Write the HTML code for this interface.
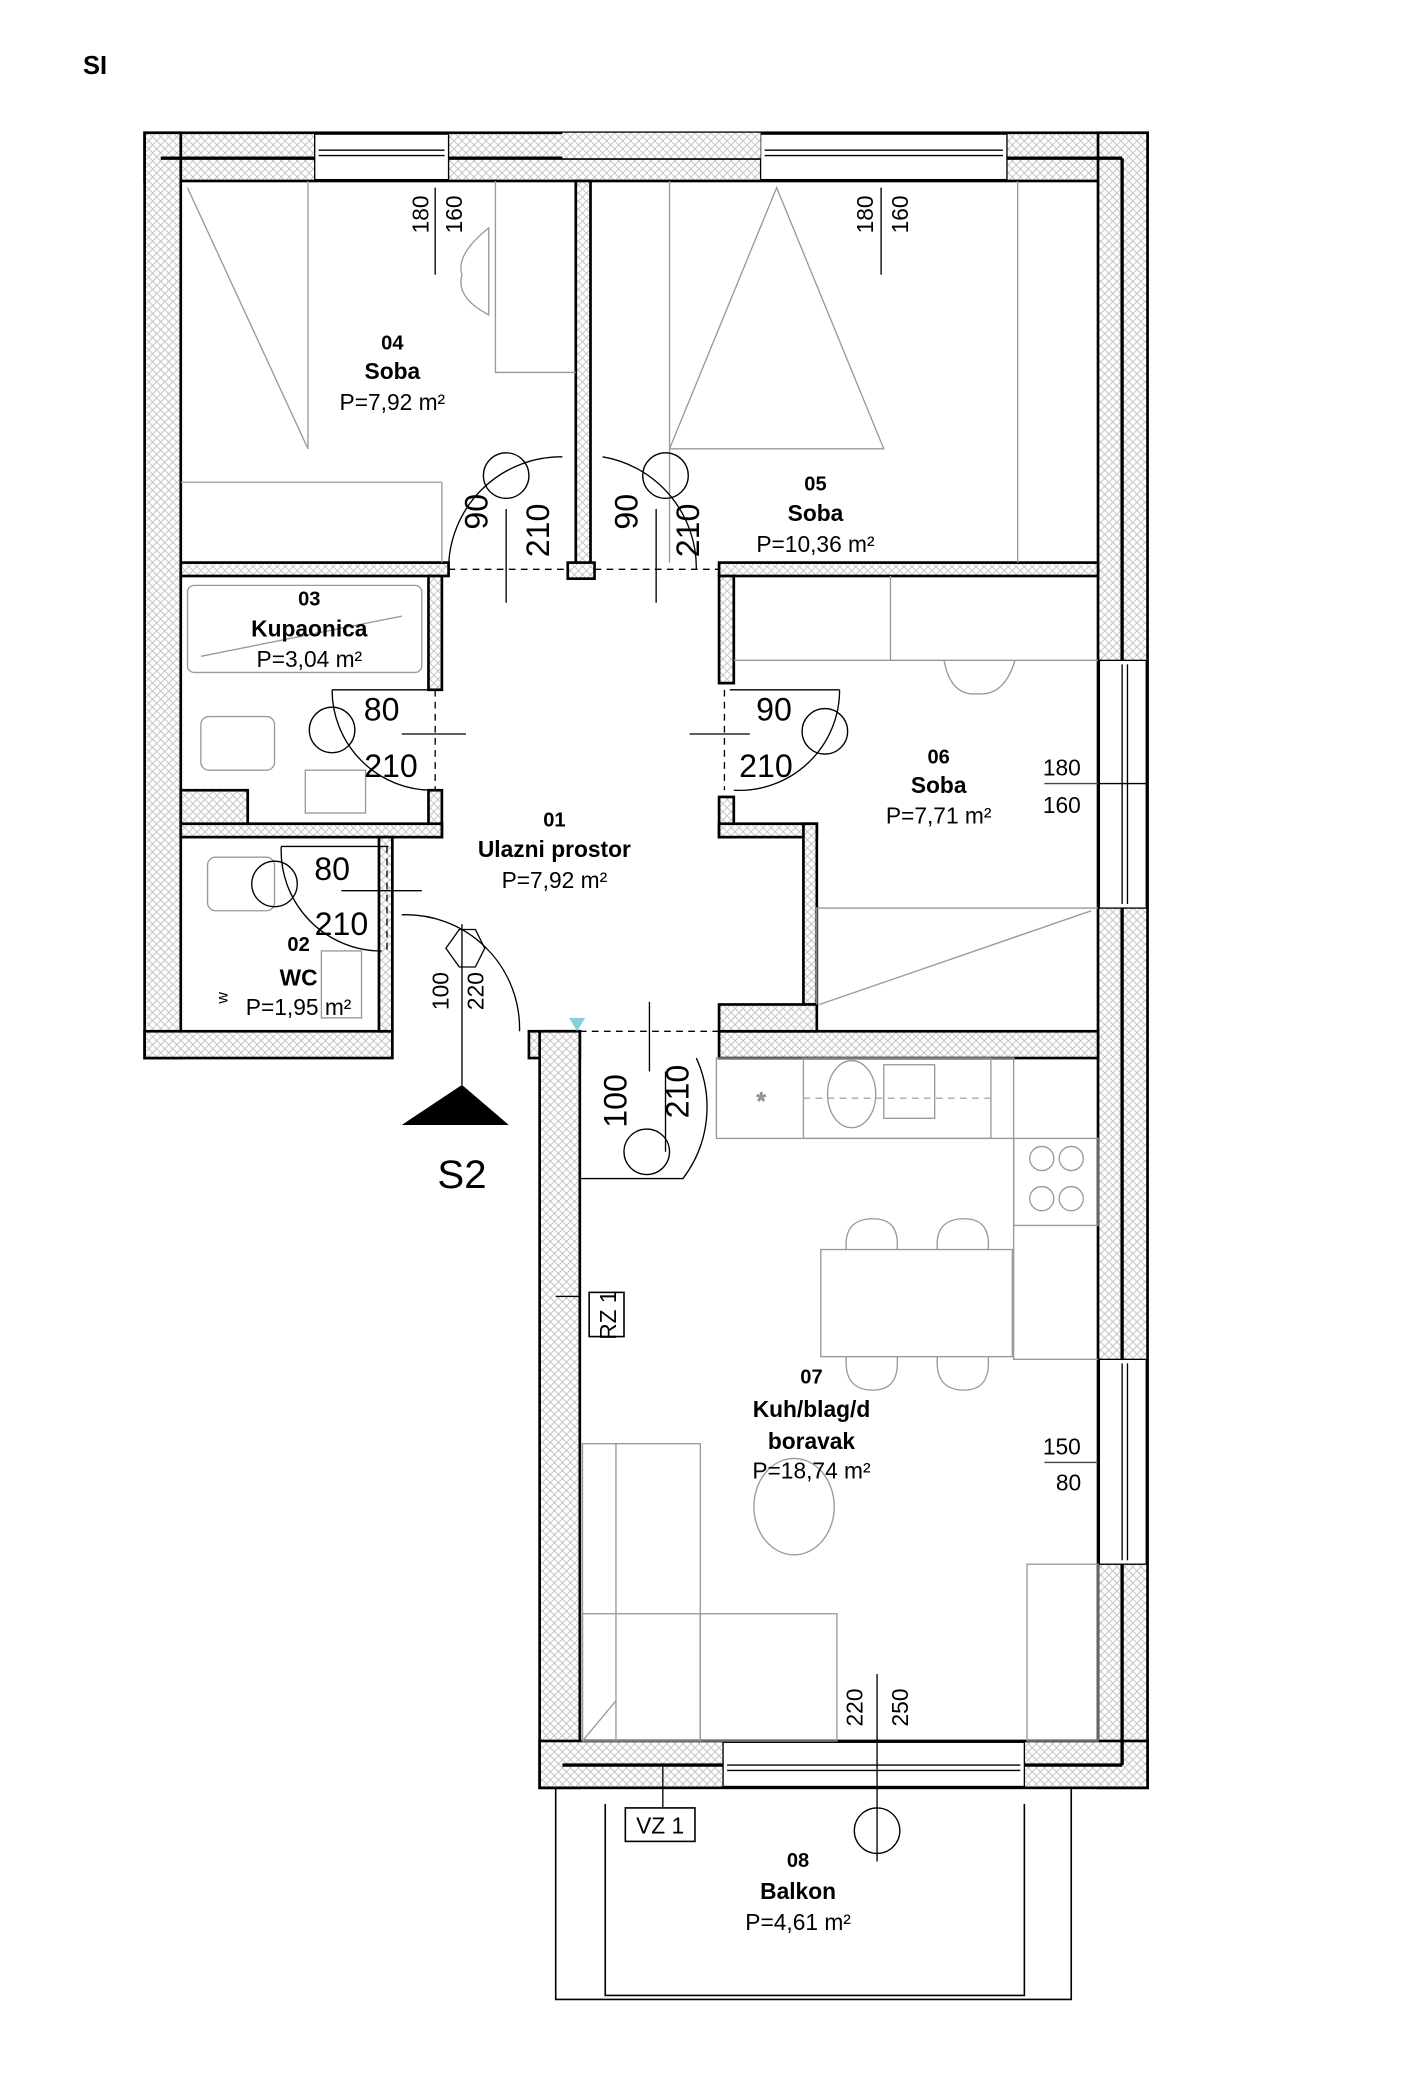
<!DOCTYPE html>
<html><head><meta charset="utf-8"><style>
html,body{margin:0;padding:0;background:#fff}
svg{display:block}
text{font-family:"Liberation Sans",sans-serif;fill:#000}
.b{font-weight:bold}
</style></head><body>
<svg width="1406" height="2092" viewBox="0 0 1050 1562" xmlns="http://www.w3.org/2000/svg">
<defs>
<pattern id="h" width="6" height="6" patternUnits="userSpaceOnUse">
<rect width="6" height="6" fill="#fff"/>
<path d="M0 0L6 6M6 0L0 6" stroke="#bbb" stroke-width="0.6"/>
</pattern>
</defs>
<text x="62" y="55" class="b" font-size="19">SI</text>

<g fill="url(#h)" stroke="#000" stroke-width="2">
<rect x="108" y="99" width="749" height="36"/>
<rect x="108" y="99" width="27" height="691"/>
<rect x="820" y="99" width="37" height="1236"/>
<rect x="108" y="770" width="185" height="20"/>
<rect x="395" y="770" width="38" height="20"/>
<rect x="537" y="770" width="283" height="20"/>
<rect x="403" y="770" width="30" height="565"/>
<rect x="403" y="1300" width="454" height="35"/>
</g>
<g stroke="#000" stroke-width="2.5" fill="none">
<line x1="120" y1="118" x2="838" y2="118"/>
<line x1="838" y1="118" x2="838" y2="1318"/>
<line x1="420" y1="1318" x2="838" y2="1318"/>
</g>
<g fill="#fff" stroke="#000" stroke-width="1">
<rect x="235" y="100" width="100" height="34"/>
<rect x="568" y="100" width="184" height="34"/>
<rect x="821" y="493" width="35" height="185"/>
<rect x="821" y="1015" width="35" height="153"/>
<rect x="540" y="1301" width="225" height="33"/>
<rect x="420" y="99" width="148" height="19" fill="url(#h)" stroke="none"/>
</g>
<g stroke="#000" stroke-width="1" fill="none">
<line x1="238" y1="112" x2="332" y2="112"/><line x1="571" y1="112" x2="749" y2="112"/>
<line x1="238" y1="116" x2="332" y2="116"/><line x1="571" y1="116" x2="749" y2="116"/>
<line x1="838" y1="496" x2="838" y2="675"/><line x1="842" y1="496" x2="842" y2="675"/>
<line x1="838" y1="1018" x2="838" y2="1165"/><line x1="842" y1="1018" x2="842" y2="1165"/>
<line x1="543" y1="1318" x2="762" y2="1318"/><line x1="543" y1="1322" x2="762" y2="1322"/>
<line x1="820" y1="585" x2="857" y2="585"/><line x1="780" y1="585" x2="820" y2="585" stroke="#444"/>
<line x1="780" y1="1092" x2="820" y2="1092" stroke="#444"/>
</g>

<g fill="url(#h)" stroke="#000" stroke-width="2">
<rect x="430" y="135" width="11" height="297"/>
<rect x="135" y="420" width="200" height="10"/>
<rect x="537" y="420" width="283" height="10"/>
<rect x="424" y="420" width="20" height="12"/>
<rect x="320" y="430" width="10" height="85"/>
<rect x="320" y="590" width="10" height="35"/>
<rect x="135" y="615" width="195" height="10"/>
<rect x="135" y="590" width="50" height="25"/>
<rect x="283" y="625" width="10" height="145"/>
<rect x="537" y="430" width="11" height="80"/>
<rect x="537" y="595" width="11" height="30"/>
<rect x="537" y="615" width="73" height="10"/>
<rect x="600" y="615" width="10" height="135"/>
<rect x="537" y="750" width="73" height="20"/>
</g>

<g stroke="#999" stroke-width="1" fill="none">
<line x1="140" y1="140" x2="230" y2="335"/><polyline points="230,135 230,335"/>
<line x1="135" y1="360" x2="330" y2="360"/><line x1="330" y1="360" x2="330" y2="420"/>
<polyline points="370,135 370,278 430,278"/>
<path d="M365 170 Q340 190 345 205 Q340 222 365 235 Z"/>
<polyline points="500,335 580,140 660,335 500,335"/><line x1="500" y1="135" x2="500" y2="420"/>
<line x1="760" y1="135" x2="760" y2="420"/>
<rect x="140" y="437" width="175" height="65" rx="5"/>
<line x1="150" y1="490" x2="300" y2="460"/>
<rect x="150" y="535" width="55" height="40" rx="6"/><rect x="228" y="575" width="45" height="32"/>
<rect x="155" y="640" width="50" height="40" rx="6"/><rect x="240" y="710" width="30" height="50"/>
<line x1="548" y1="493" x2="820" y2="493"/><line x1="665" y1="430" x2="665" y2="493"/>
<path d="M705 493 Q710 520 730 518 Q750 520 758 493"/>
<polyline points="610,750 610,678 820,678"/><line x1="612" y1="750" x2="815" y2="680"/>
<rect x="535" y="790" width="222" height="60"/><rect x="600" y="790" width="140" height="60"/>
<rect x="660" y="795" width="38" height="40"/><ellipse cx="636" cy="817" rx="18" ry="25"/>
<text x="565" y="828" font-size="18" fill="#999">*</text>
<rect x="757" y="850" width="63" height="65"/>
<circle cx="778" cy="865" r="9"/><circle cx="800" cy="865" r="9"/><circle cx="778" cy="895" r="9"/><circle cx="800" cy="895" r="9"/>
<polyline points="757,850 757,1015 820,1015"/>
<rect x="613" y="933" width="143" height="80"/>
<path d="M632 933 Q630 910 652 910 Q672 910 670 933"/><path d="M700 933 Q698 910 720 910 Q740 910 738 933"/>
<path d="M632 1013 Q630 1038 652 1038 Q672 1038 670 1013"/><path d="M700 1013 Q698 1038 720 1038 Q740 1038 738 1013"/>
<ellipse cx="593" cy="1125" rx="30" ry="36"/>
<rect x="435" y="1078" width="88" height="222"/><line x1="460" y1="1078" x2="460" y2="1300"/>
<rect x="435" y="1205" width="190" height="95"/><line x1="523" y1="1205" x2="523" y2="1300"/>
<line x1="435" y1="1300" x2="460" y2="1270"/>
<rect x="767" y="1168" width="53" height="132"/>
</g>

<g stroke="#000" stroke-width="1" fill="none">
<path d="M335 425 A84 84 0 0 1 420 341"/><circle cx="378" cy="355" r="17"/>
<path d="M520 425 A84 84 0 0 0 450 341"/><circle cx="497" cy="355" r="17"/>
<path d="M248 515 L325 515"/><path d="M248 515 A75 75 0 0 0 323 590"/><circle cx="248" cy="545" r="17"/>
<path d="M545 515 L627 515"/><path d="M627 515 A75 75 0 0 1 548 590"/><circle cx="616" cy="546" r="17"/>
<path d="M210 632 L290 632"/><path d="M210 632 A75 75 0 0 0 285 710"/><circle cx="205" cy="660" r="17"/>
<path d="M300 683 A85 85 0 0 1 388 770"/><polygon points="333,708 343,694 355,694 362,708 355,722 343,722"/>
<path d="M434 880 L510 880 A88 88 0 0 0 520 790"/><circle cx="483" cy="860" r="17"/>
<circle cx="655" cy="1367" r="17"/>
</g>
<g stroke="#000" stroke-width="1" stroke-dasharray="5,4" fill="none">
<line x1="335" y1="425" x2="424" y2="425"/><line x1="444" y1="425" x2="537" y2="425"/>
<line x1="325" y1="515" x2="325" y2="590"/><line x1="541" y1="515" x2="541" y2="590"/>
<line x1="289" y1="632" x2="289" y2="710"/><line x1="433" y1="770" x2="537" y2="770"/>
<line x1="600" y1="820" x2="740" y2="820" stroke="#aaa"/>
</g>
<g stroke="#000" stroke-width="1">
<line x1="378" y1="380" x2="378" y2="450"/><line x1="490" y1="380" x2="490" y2="450"/>
<line x1="300" y1="548" x2="348" y2="548"/><line x1="515" y1="548" x2="560" y2="548"/>
<line x1="255" y1="665" x2="315" y2="665"/><line x1="345" y1="690" x2="345" y2="810"/>
<line x1="485" y1="748" x2="485" y2="800"/><line x1="497" y1="800" x2="497" y2="860"/>
<line x1="655" y1="1250" x2="655" y2="1390"/>
<line x1="325" y1="140" x2="325" y2="205"/><line x1="658" y1="140" x2="658" y2="205"/>
<line x1="415" y1="968" x2="433" y2="968"/><line x1="495" y1="1318" x2="495" y2="1350"/>
</g>
<polygon points="425,760 437,760 431,770" fill="#8cd"/>

<polygon points="300,840 345,810 380,840" fill="#000"/>
<text x="345" y="887" font-size="30" text-anchor="middle">S2</text>

<g stroke="#000" stroke-width="1.2" fill="none">
<polyline points="415,1335 415,1493 800,1493 800,1335"/>
<polyline points="452,1347 452,1490 765,1490 765,1347"/>
<rect x="467" y="1350" width="52" height="25"/>
<rect x="440" y="965" width="26" height="33"/>
</g>
<text x="493" y="1369" font-size="17" text-anchor="middle">VZ 1</text>
<text transform="translate(460,982) rotate(-90)" font-size="17" text-anchor="middle">RZ 1</text>

<g font-size="17">
<text transform="translate(320,160) rotate(-90)" text-anchor="middle">180</text>
<text transform="translate(345,160) rotate(-90)" text-anchor="middle">160</text>
<text transform="translate(652,160) rotate(-90)" text-anchor="middle">180</text>
<text transform="translate(678,160) rotate(-90)" text-anchor="middle">160</text>
<text transform="translate(678,1275) rotate(-90)" text-anchor="middle">250</text>
<text transform="translate(644,1275) rotate(-90)" text-anchor="middle">220</text>
<text transform="translate(335,740) rotate(-90)" text-anchor="middle">100</text>
<text transform="translate(361,740) rotate(-90)" text-anchor="middle">220</text>
</g>
<g font-size="24">
<text transform="translate(364,382) rotate(-90)" text-anchor="middle">90</text>
<text transform="translate(410,396) rotate(-90)" text-anchor="middle">210</text>
<text transform="translate(476,382) rotate(-90)" text-anchor="middle">90</text>
<text transform="translate(522,396) rotate(-90)" text-anchor="middle">210</text>
<text transform="translate(468,822) rotate(-90)" text-anchor="middle">100</text>
<text transform="translate(514,815) rotate(-90)" text-anchor="middle">210</text>
<text x="285" y="538" text-anchor="middle">80</text>
<text x="292" y="580" text-anchor="middle">210</text>
<text x="578" y="538" text-anchor="middle">90</text>
<text x="572" y="580" text-anchor="middle">210</text>
<text x="248" y="657" text-anchor="middle">80</text>
<text x="255" y="698" text-anchor="middle">210</text>
</g>
<g font-size="17" text-anchor="middle">
<text x="793" y="579">180</text><text x="793" y="607">160</text>
<text x="793" y="1086">150</text><text x="798" y="1113">80</text>
</g>

<g text-anchor="middle" font-size="17">
<text x="293" y="261" class="b" font-size="15">04</text><text x="293" y="283" class="b">Soba</text><text x="293" y="306">P=7,92 m²</text>
<text x="609" y="366" class="b" font-size="15">05</text><text x="609" y="389" class="b">Soba</text><text x="609" y="412">P=10,36 m²</text>
<text x="231" y="452" class="b" font-size="15">03</text><text x="231" y="475" class="b">Kupaonica</text><text x="231" y="498">P=3,04 m²</text>
<text x="701" y="570" class="b" font-size="15">06</text><text x="701" y="592" class="b">Soba</text><text x="701" y="615">P=7,71 m²</text>
<text x="414" y="617" class="b" font-size="15">01</text><text x="414" y="640" class="b">Ulazni prostor</text><text x="414" y="663">P=7,92 m²</text>
<text x="223" y="710" class="b" font-size="15">02</text><text x="223" y="736" class="b">WC</text><text x="223" y="758">P=1,95 m²</text>
<text x="606" y="1033" class="b" font-size="15">07</text><text x="606" y="1058" class="b">Kuh/blag/d</text><text x="606" y="1082" class="b">boravak</text><text x="606" y="1104">P=18,74 m²</text>
<text x="596" y="1394" class="b" font-size="15">08</text><text x="596" y="1418" class="b">Balkon</text><text x="596" y="1441">P=4,61 m²</text>
</g>
<text x="170" y="745" font-size="12" fill="#333" transform="rotate(-90 170 745)" text-anchor="middle">w</text>
</svg>
</body></html>
